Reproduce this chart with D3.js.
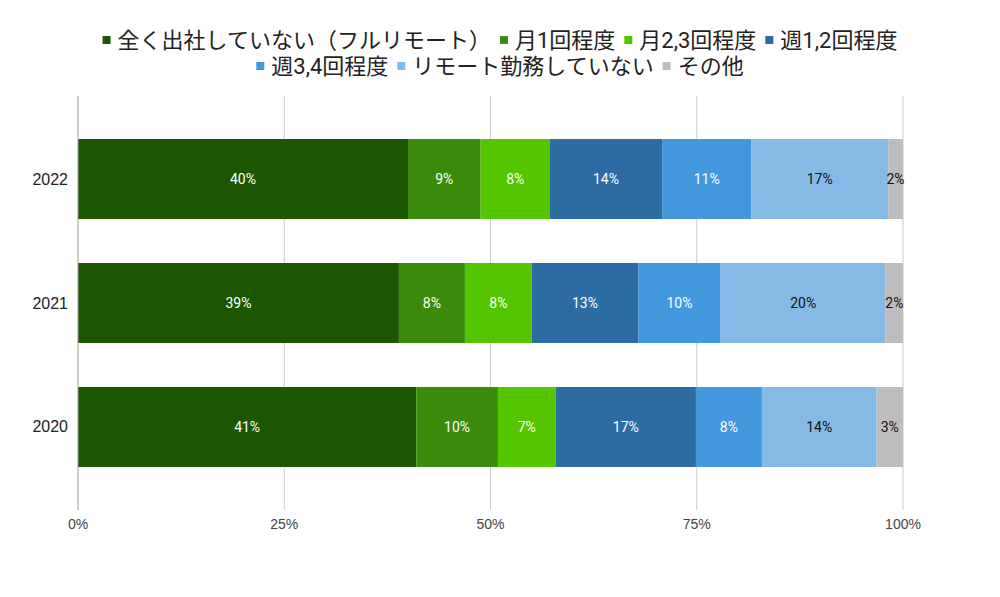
<!DOCTYPE html>
<html><head><meta charset="utf-8">
<script src="https://cdn.jsdelivr.net/npm/d3@7"></script>
<style>body{margin:0;background:#fff}svg{display:block}</style>
</head><body>
<svg id="chart" width="1000" height="597"></svg>
<script>
const years = ["2022", "2021", "2020"];
const seriesNames = ["全く出社していない（フルリモート）", "月1回程度", "月2,3回程度", "週1,2回程度", "週3,4回程度", "リモート勤務していない", "その他"];
const v2022 = [40.0, 8.8, 8.4, 13.6, 10.8, 16.6, 1.8];
const v2021 = [38.9, 8.0, 8.1, 12.9, 10.0, 20.0, 2.1];
const v2020 = [41.0, 9.9, 7.0, 17.0, 8.0, 13.9, 3.2];
const xTicks = [0, 25, 50, 75, 100];
const colors = ["#1c5601", "#3a8b09", "#55c500", "#2d6ca2", "#4397dd", "#85bae6", "#bdbdbd"];
const labelColors = ["#fff", "#fff", "#fff", "#fff", "#fff", "#111", "#111"];

(function () {
const valuesByYear = {"2022": v2022, "2021": v2021, "2020": v2020};
const svg = d3.select("#chart");
const W = 1000;
const pLeft = 78, pRight = 903, pTop = 96, pBottom = 510;

const x = d3.scaleLinear().domain([0, 100]).range([pLeft, pRight]);
const y = d3.scaleBand().domain(years).range([pTop, pBottom]).paddingInner(0.355).paddingOuter(0.347);

svg.append("g").selectAll("line").data(xTicks.filter(t => t > 0)).join("line")
  .attr("x1", d => x(d)).attr("x2", d => x(d))
  .attr("y1", pTop).attr("y2", pBottom)
  .attr("stroke", "#cccccc").attr("stroke-width", 1);

const rows = years.map(yr => {
  let acc = 0;
  return valuesByYear[yr].map((v, i) => { const s = acc; acc += v; return {yr, i, v, s, e: acc}; });
});

const segs = svg.append("g");
rows.flat().forEach(d => {
  segs.append("rect")
    .attr("x", x(d.s)).attr("y", y(d.yr))
    .attr("width", x(d.e) - x(d.s)).attr("height", y.bandwidth())
    .attr("fill", colors[d.i]);
});
rows.flat().forEach(d => {
  segs.append("text")
    .attr("x", (x(d.s) + x(d.e)) / 2).attr("y", y(d.yr) + y.bandwidth() / 2)
    .attr("text-anchor", "middle").attr("dominant-baseline", "central")
    .attr("font-family", "Roboto, Arial, sans-serif").attr("font-size", 14)
    .attr("fill", labelColors[d.i])
    .text(Math.round(d.v) + "%");
});

svg.append("line").attr("x1", x(0)).attr("x2", x(0)).attr("y1", pTop).attr("y2", pBottom)
  .attr("stroke", "#999999").attr("stroke-width", 1);

svg.append("g").selectAll("text").data(xTicks).join("text")
  .attr("x", d => x(d)).attr("y", 524)
  .attr("text-anchor", "middle").attr("dominant-baseline", "central")
  .attr("font-family", "'Liberation Sans', Arial, sans-serif").attr("font-size", 14).attr("fill", "#444")
  .text(d => d + "%");

svg.append("g").selectAll("text").data(years).join("text")
  .attr("x", 68).attr("y", d => y(d) + y.bandwidth() / 2)
  .attr("text-anchor", "end").attr("dominant-baseline", "central")
  .attr("font-family", "'Liberation Sans', Arial, sans-serif").attr("font-size", 16).attr("fill", "#222")
  .text(d => d);

const legendRows = [[0, 1, 2, 3], [4, 5, 6]];
const legendY = [40, 66];
const fs = 22, sw = 8, sgap = 7, igap = 9;
const lg = svg.append("g");
legendRows.forEach((row, ri) => {
  const items = row.map(i => {
    const g = lg.append("g");
    g.append("rect").attr("width", sw).attr("height", sw).attr("y", -sw / 2).attr("fill", colors[i]);
    const t = g.append("text").attr("x", sw + sgap).attr("dominant-baseline", "central")
      .attr("font-family", "Roboto, 'Noto Sans CJK JP', sans-serif").attr("font-size", fs).attr("fill", "#222")
      .text(seriesNames[i]);
    const w = sw + sgap + t.node().getComputedTextLength();
    return {g, w};
  });
  const total = d3.sum(items, d => d.w) + igap * (items.length - 1);
  let cx = W / 2 - total / 2;
  items.forEach(it => { it.g.attr("transform", `translate(${cx},${legendY[ri]})`); cx += it.w + igap; });
});
})();
</script>
</body></html>
